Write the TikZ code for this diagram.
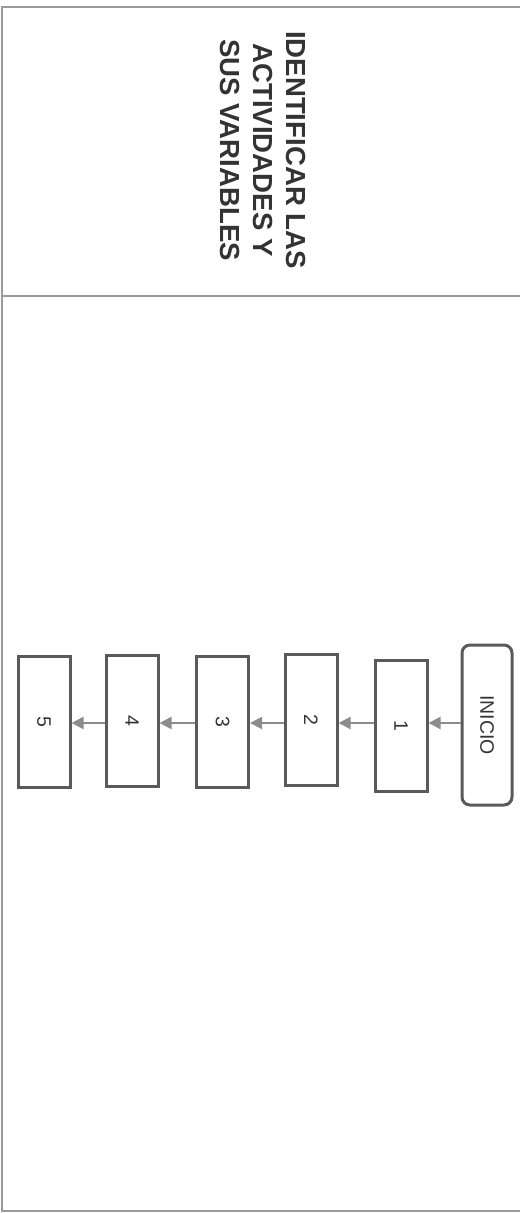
\documentclass[tikz,border=0pt]{standalone}
\usepackage{fontspec}
\setmainfont{Liberation Sans}
\usetikzlibrary{arrows.meta}
\definecolor{framec}{HTML}{9A9A9A}
\definecolor{boxc}{HTML}{5A5A5A}
\definecolor{arrc}{HTML}{8C8C8C}
\definecolor{textc}{HTML}{333333}
\tikzset{
  stepbox/.style={draw=boxc, line width=3pt, minimum width=52pt, minimum height=131pt, inner sep=0pt, text=textc, font=\fontsize{19.5}{22}\selectfont},
  startbox/.style={stepbox, rounded corners=8pt, minimum height=160pt, minimum width=50pt},
  flow/.style={draw=arrc, line width=2pt, -{Triangle[length=12pt,width=12pt]}},
  frameline/.style={draw=framec, line width=1.5pt},
}
\begin{document}
\begin{tikzpicture}[x=1pt,y=-1pt]
\useasboundingbox (0,0) rectangle (520,1213);
\draw[frameline] (520,7) -- (2,7) -- (2,1211) -- (520,1211);
\draw[frameline] (2,296) -- (520,296);
\node[rotate=-90, align=center, text=textc, font=\bfseries\fontsize{27.6}{33}\selectfont] (title) at (263,150) {IDENTIFICAR LAS\\ACTIVIDADES Y\\SUS VARIABLES};
\node[startbox] (inicio) at (487,725) {\rotatebox{-90}{INICIO}};
\node[stepbox] (b1) at (401,725.5) {\rotatebox{-90}{1}};
\node[stepbox] (b2) at (311,720) {\rotatebox{-90}{2}};
\node[stepbox] (b3) at (222.5,722) {\rotatebox{-90}{3}};
\node[stepbox] (b4) at (132,721) {\rotatebox{-90}{4}};
\node[stepbox] (b5) at (44,721.5) {\rotatebox{-90}{5}};
\draw[flow] (inicio.west |- 0,723) -- (b1.east |- 0,723);
\draw[flow] (b1.west |- 0,723) -- (b2.east |- 0,723);
\draw[flow] (b2.west |- 0,723) -- (b3.east |- 0,723);
\draw[flow] (b3.west |- 0,723) -- (b4.east |- 0,723);
\draw[flow] (b4.west |- 0,723) -- (b5.east |- 0,723);
\end{tikzpicture}
\end{document}
